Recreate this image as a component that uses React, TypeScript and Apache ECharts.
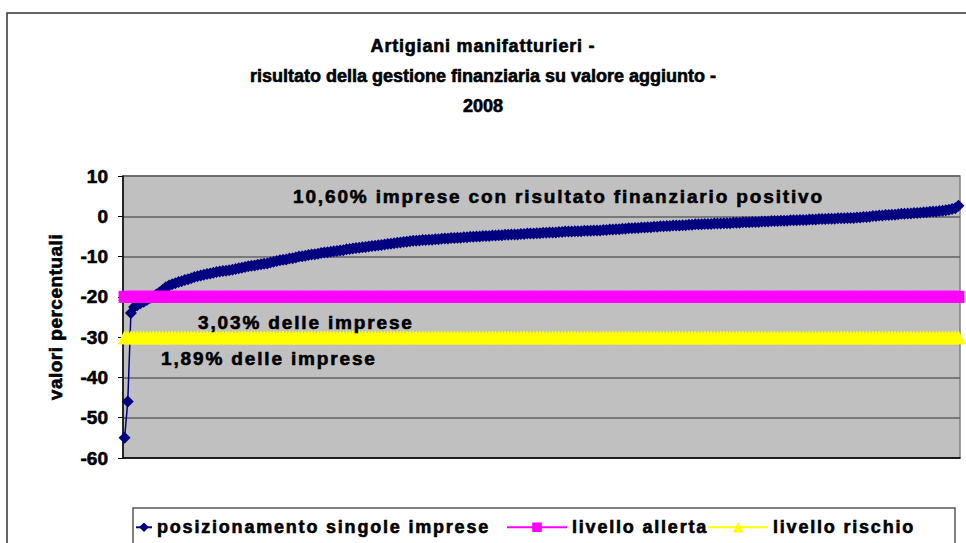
import React, { useEffect, useRef } from "react";
import * as echarts from "echarts";

const titleLines = [
  "Artigiani manifatturieri -",
  "risultato della gestione finanziaria su valore aggiunto -",
  "2008",
];
const seriesNames = ["posizionamento singole imprese", "livello allerta", "livello rischio"];
const annotationTexts = [
  "10,60% imprese con risultato finanziario positivo",
  "3,03% delle imprese",
  "1,89% delle imprese",
];
const yAxisName = "valori percentuali";
const yMin = -60;
const yMax = 10;
const yStep = 10;
const alertLevel = -20;
const riskLevel = -30;

// posizionamento singole imprese (sorted)
const positions = [
  -55, -46, -24, -22.5, -22.1, -21.6, -21.2, -20.8, -20.3, -19.9,
  -19.4, -18.9, -18.3, -17.6, -17.2, -16.9, -16.6, -16.3, -16.1, -15.8,
  -15.6, -15.4, -15.1, -14.9, -14.7, -14.5, -14.3, -14.2, -14.0, -13.8,
  -13.7, -13.6, -13.5, -13.4, -13.3, -13.1, -12.9, -12.8, -12.6, -12.4,
  -12.3, -12.2, -12.0, -11.9, -11.8, -11.7, -11.5, -11.3, -11.1, -10.9,
  -10.8, -10.7, -10.5, -10.4, -10.2, -10.0, -9.9, -9.8, -9.6, -9.5,
  -9.4, -9.3, -9.1, -9.0, -8.9, -8.8, -8.7, -8.6, -8.5, -8.4,
  -8.2, -8.1, -8.0, -7.9, -7.8, -7.7, -7.6, -7.5, -7.4, -7.3,
  -7.2, -7.1, -7.0, -6.9, -6.8, -6.7, -6.6, -6.5, -6.4, -6.3,
  -6.2, -6.1, -6.1, -6.0, -5.9, -5.9, -5.8, -5.8, -5.7, -5.7,
  -5.6, -5.5, -5.5, -5.4, -5.4, -5.3, -5.3, -5.2, -5.2, -5.1,
  -5.1, -5.0, -5.0, -4.9, -4.9, -4.9, -4.8, -4.8, -4.7, -4.7,
  -4.6, -4.6, -4.5, -4.5, -4.5, -4.4, -4.4, -4.3, -4.3, -4.3,
  -4.2, -4.2, -4.1, -4.1, -4.0, -4.0, -4.0, -3.9, -3.9, -3.8,
  -3.8, -3.8, -3.7, -3.7, -3.7, -3.6, -3.6, -3.6, -3.5, -3.5,
  -3.5, -3.4, -3.4, -3.3, -3.3, -3.2, -3.2, -3.1, -3.1, -3.0,
  -3.0, -2.9, -2.9, -2.8, -2.8, -2.7, -2.7, -2.6, -2.6, -2.5,
  -2.5, -2.4, -2.4, -2.3, -2.3, -2.3, -2.2, -2.2, -2.1, -2.1,
  -2.0, -2.0, -2.0, -1.9, -1.9, -1.9, -1.8, -1.8, -1.8, -1.7,
  -1.7, -1.7, -1.6, -1.6, -1.6, -1.5, -1.5, -1.5, -1.4, -1.4,
  -1.4, -1.3, -1.3, -1.3, -1.2, -1.2, -1.2, -1.1, -1.1, -1.1,
  -1.0, -1.0, -1.0, -0.9, -0.9, -0.9, -0.8, -0.8, -0.8, -0.7,
  -0.7, -0.7, -0.6, -0.6, -0.6, -0.5, -0.5, -0.5, -0.4, -0.4,
  -0.4, -0.3, -0.3, -0.2, -0.2, -0.1,
  0.1, 0.1, 0.2, 0.2, 0.3, 0.3, 0.4, 0.4, 0.5, 0.6,
  0.6, 0.7, 0.7, 0.8, 0.8, 0.9, 1.0, 1.0, 1.1, 1.2,
  1.2, 1.3, 1.4, 1.5, 1.6, 1.8, 2.0, 2.6,
];
const categories = positions.map((_, i) => String(i + 1));

const FONT = "'Liberation Sans', Arial, sans-serif";

function spacingFor(t: string): number {
  if (t === titleLines[0]) return 0.8;
  if (titleLines.includes(t)) return 0;
  if (annotationTexts.includes(t)) return 1.85;
  if (seriesNames.includes(t)) return 1.8;
  if (t === yAxisName) return 0.5;
  return 0;
}

export default function App() {
  const ref = useRef<HTMLDivElement>(null);
  useEffect(() => {
    if (!ref.current) return;
    const chart = echarts.init(ref.current, undefined, { renderer: "svg" });
    const textBase = {
      fontFamily: FONT,
      fontWeight: "bold" as const,
      fontSize: 18,
      color: "#000",
      textBorderColor: "#000",
      textBorderWidth: 0.6,
    };
    const annStyle = { font: `bold 19px ${FONT}`, fill: "#000", stroke: "#000", lineWidth: 0.6, verticalAlign: "middle" };
    chart.setOption({
      animation: false,
      backgroundColor: "#fff",
      title: {
        text: titleLines.join("\n"),
        left: "center",
        top: 31,
        padding: 0,
        textStyle: { ...textBase, fontSize: 18, lineHeight: 30 },
      },
      grid: { left: 123, top: 176, right: 6, bottom: 85, show: true, backgroundColor: "#C0C0C0", borderColor: "#808080", borderWidth: 1.5 },
      legend: [
        {
          data: [seriesNames[0]], left: 135, top: 518, itemWidth: 16, itemHeight: 12, itemGap: 0, padding: 0,
          textStyle: textBase,
        },
        {
          data: [seriesNames[1]], left: 506, top: 518, itemWidth: 60, itemHeight: 12, padding: 0,
          textStyle: textBase,
        },
        {
          data: [seriesNames[2]], left: 707, top: 518, itemWidth: 60, itemHeight: 13, padding: 0,
          textStyle: textBase,
        },
      ],
      xAxis: {
        type: "category",
        data: categories,
        boundaryGap: true,
        axisLine: { show: true, onZero: false, lineStyle: { color: "#000", width: 1.5 } },
        axisTick: { show: false },
        axisLabel: { show: false },
        splitLine: { show: false },
      },
      yAxis: {
        type: "value",
        min: yMin,
        max: yMax,
        interval: yStep,
        name: yAxisName,
        nameLocation: "middle",
        nameGap: 58,
        nameTextStyle: { ...textBase, fontSize: 19 },
        axisLine: { show: true, lineStyle: { color: "#000", width: 1.5 } },
        axisTick: { show: true, length: 5, lineStyle: { color: "#000" } },
        axisLabel: { ...textBase, fontSize: 19, margin: 15 },
        splitLine: { show: true, lineStyle: { color: "#606060", width: 1.5 } },
      },
      series: [
        {
          name: seriesNames[0],
          type: "line",
          data: positions,
          symbol: "diamond",
          symbolSize: 12,
          showAllSymbol: true,
          color: "#000080",
          lineStyle: { color: "#000080", width: 1.5 },
          itemStyle: { color: "#000080" },
          silent: true,
          z: 2,
        },
        {
          name: seriesNames[1],
          type: "line",
          data: categories.map(() => alertLevel),
          symbol: "rect",
          symbolSize: 12,
          showAllSymbol: true,
          color: "#FF00FF",
          lineStyle: { color: "#FF00FF", width: 2 },
          itemStyle: { color: "#FF00FF" },
          silent: true,
          z: 3,
        },
        {
          name: seriesNames[2],
          type: "line",
          data: categories.map(() => riskLevel),
          symbol: "triangle",
          symbolSize: 14,
          showAllSymbol: true,
          color: "#FFFF00",
          lineStyle: { color: "#FFFF00", width: 2 },
          itemStyle: { color: "#FFFF00" },
          silent: true,
          z: 4,
        },
      ],
      graphic: [
        { type: "rect", shape: { x: 7, y: 13, width: 1000, height: 600 }, style: { fill: "none", stroke: "#333", lineWidth: 1.5 }, silent: true, z: 100 },
        { type: "rect", shape: { x: 133, y: 508, width: 822, height: 60 }, style: { fill: "none", stroke: "#555", lineWidth: 1.5 }, silent: true, z: 100 },
        { type: "text", x: 293, y: 196, style: { ...annStyle, text: annotationTexts[0] }, z: 100 },
        { type: "text", x: 198, y: 322, style: { ...annStyle, text: annotationTexts[1] }, z: 100 },
        { type: "text", x: 161, y: 358, style: { ...annStyle, text: annotationTexts[2] }, z: 100 },
      ],
    });
    ref.current.querySelectorAll("text").forEach((el) => {
      const s = spacingFor((el.textContent || "").trim());
      if (s) (el as SVGTextElement).style.letterSpacing = s + "px";
    });
    return () => chart.dispose();
  }, []);
  return <div ref={ref} style={{ position: "fixed", left: 0, top: 0, width: 966, height: 543 }} />;
}
